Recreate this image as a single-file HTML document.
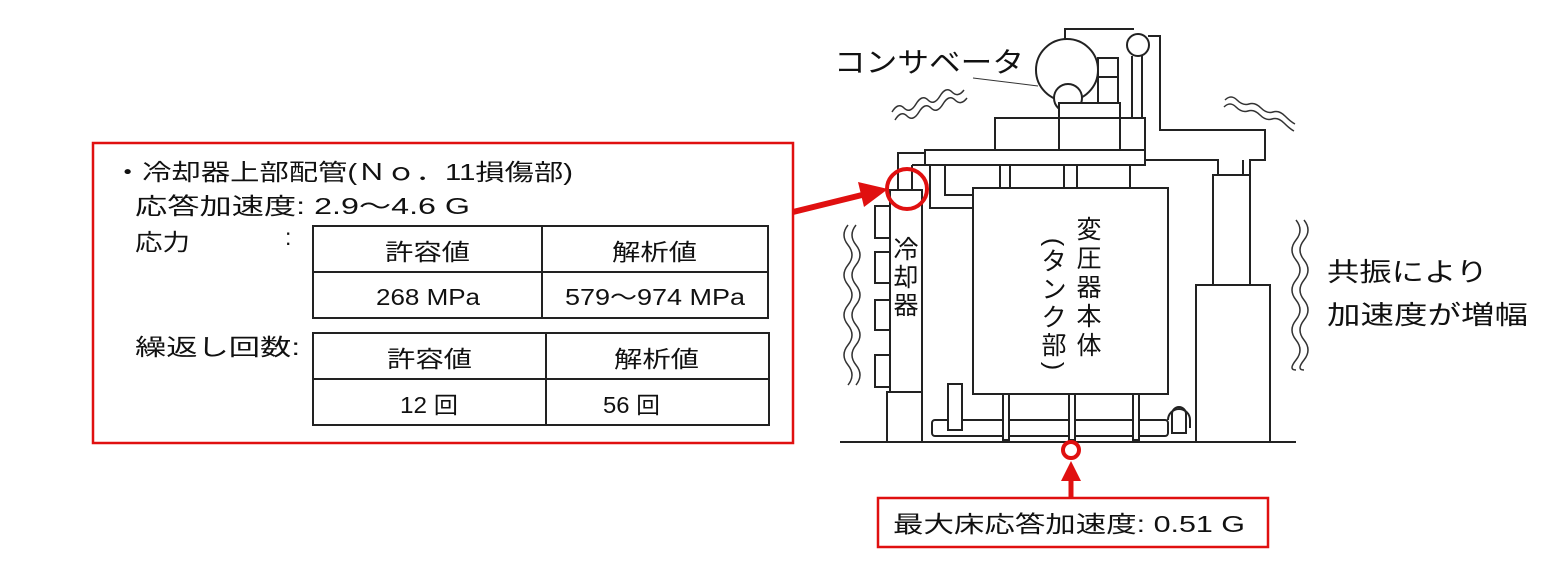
<!DOCTYPE html>
<html><head><meta charset="utf-8"><style>
html,body{margin:0;padding:0;background:#fff}
svg{display:block}
text{font-family:"Liberation Sans","Noto Sans CJK JP",sans-serif;fill:#111}
</style></head><body>
<svg width="1552" height="578" viewBox="0 0 1552 578" xmlns="http://www.w3.org/2000/svg">
<g fill="none" stroke="#222" stroke-width="2">
<line x1="840" y1="442" x2="1296" y2="442"/>
<circle cx="1067" cy="70" r="31" fill="#fff"/>
<circle cx="1068" cy="98" r="14" fill="#fff"/>
<polyline points="1065,39 1065,29 1134,29"/>
<circle cx="1138" cy="45" r="11"/>
<line x1="1132" y1="56" x2="1132" y2="118"/>
<line x1="1142" y1="56" x2="1142" y2="118"/>
<polyline points="1148,36 1160,36 1160,130 1265,130 1265,160 1250,160 1250,175"/>
<polyline points="1145,160 1218,160 1218,175"/>
<line x1="1243" y1="160" x2="1243" y2="175"/>
<rect x="1098" y="58" width="20" height="45"/>
<line x1="1098" y1="77" x2="1118" y2="77"/>
<rect x="1059" y="103" width="61" height="47" fill="#fff"/>
<rect x="995" y="118" width="150" height="47"/>
<rect x="925" y="150" width="220" height="15" fill="#fff"/>
<line x1="1059" y1="103" x2="1059" y2="150"/>
<line x1="1120" y1="103" x2="1120" y2="150"/>
<line x1="1000" y1="165" x2="1000" y2="188"/><line x1="1010" y1="165" x2="1010" y2="188"/>
<line x1="1064" y1="165" x2="1064" y2="188"/><line x1="1077" y1="165" x2="1077" y2="188"/>
<line x1="1130" y1="165" x2="1130" y2="188"/>
<polyline points="945,165 945,195 973,195"/>
<polyline points="930,165 930,208 973,208"/>
<polyline points="898,190 898,153 925,153"/>
<line x1="912" y1="165" x2="912" y2="190"/>
<line x1="912" y1="165" x2="925" y2="165"/>
<rect x="1213" y="175" width="37" height="110"/>
<rect x="1196" y="285" width="74" height="157"/>
<rect x="973" y="188" width="195" height="206" fill="#fff"/>
<rect x="890" y="190" width="32" height="202"/>
<rect x="887" y="392" width="35" height="50"/>
<rect x="875" y="206" width="15" height="32"/><rect x="875" y="252" width="15" height="31"/>
<rect x="875" y="300" width="15" height="30"/><rect x="875" y="355" width="15" height="32"/>
<rect x="932" y="420" width="236" height="16" rx="3"/>
<rect x="948" y="384" width="14" height="46" fill="#fff"/>
<rect x="1003" y="394" width="6" height="46" fill="#fff"/>
<rect x="1069" y="394" width="6" height="46" fill="#fff"/>
<rect x="1133" y="394" width="6" height="46" fill="#fff"/>
<path d="M1172,433 V414 a7,7 0 0,1 14,0 V433 Z"/>
<path d="M1168,420 a11,11 0 0,1 22,0 V428"/>
</g>
<line x1="973" y1="78" x2="1038" y2="86" stroke="#333" stroke-width="1"/>
<g fill="none" stroke="#333" stroke-width="1.5">
<path d="M892,112 q6,-10 12,-4 t12,-4 t12,-4 t12,-4 t12,-4 t12,-2"/>
<path d="M895,120 q6,-10 12,-4 t12,-4 t12,-4 t12,-4 t12,-4 t12,-2"/>
<path d="M1225,100 q6,-6 12,0 t12,4 t12,4 t12,4 t12,4 t10,8"/>
<path d="M1224,107 q6,-6 12,0 t12,4 t12,4 t12,4 t12,4 t10,8"/>
<path d="M848,225 q-8,10 0,20 t0,20 t0,20 t0,20 t0,20 t0,20 t0,20 t0,20"/>
<path d="M856,225 q-8,10 0,20 t0,20 t0,20 t0,20 t0,20 t0,20 t0,20 t0,20"/>
<path d="M1296,220 q8,10 0,20 t0,20 t0,20 t0,20 t0,20 t0,20 t0,20 t0,10"/>
<path d="M1304,220 q8,10 0,20 t0,20 t0,20 t0,20 t0,20 t0,20 t0,20 t0,10"/>
</g>
<g stroke="#e01010" fill="none">
<circle cx="907" cy="189" r="20" stroke-width="4"/>
<circle cx="1071" cy="450" r="8" stroke-width="4"/>
<rect x="93" y="143" width="700" height="300" stroke-width="2.5"/>
<rect x="878" y="498" width="390" height="49" stroke-width="2.5"/>
<line x1="793" y1="212" x2="862" y2="195" stroke-width="6"/>
<line x1="1071" y1="478" x2="1071" y2="498" stroke-width="5"/>
</g>
<polygon points="888,189 858,182 864,207" fill="#e01010"/>
<polygon points="1071,461 1061,481 1081,481" fill="#e01010"/>
<g fill="none" stroke="#222" stroke-width="2">
<rect x="313" y="226" width="455" height="92"/><line x1="313" y1="272" x2="768" y2="272"/><line x1="542" y1="226" x2="542" y2="318"/>
<rect x="313" y="333" width="456" height="92"/><line x1="313" y1="379" x2="769" y2="379"/><line x1="546" y1="333" x2="546" y2="425"/>
</g>
<g font-size="23">
<text x="113" y="180" textLength="460" lengthAdjust="spacingAndGlyphs">・冷却器上部配管(Ｎｏ．11損傷部)</text>
<text x="135" y="214" textLength="335" lengthAdjust="spacingAndGlyphs">応答加速度: 2.9～4.6 G</text>
<text x="135" y="250" textLength="55" lengthAdjust="spacingAndGlyphs">応力</text><text x="285" y="245">:</text>
<text x="135" y="355" textLength="165" lengthAdjust="spacingAndGlyphs">繰返し回数:</text>
<text x="385" y="260" textLength="85" lengthAdjust="spacingAndGlyphs">許容値</text>
<text x="612" y="260" textLength="85" lengthAdjust="spacingAndGlyphs">解析値</text>
<text x="376" y="305" textLength="104" lengthAdjust="spacingAndGlyphs">268 MPa</text>
<text x="565" y="305" textLength="180" lengthAdjust="spacingAndGlyphs">579～974 MPa</text>
<text x="387" y="367" textLength="85" lengthAdjust="spacingAndGlyphs">許容値</text>
<text x="614" y="367" textLength="85" lengthAdjust="spacingAndGlyphs">解析値</text>
<text x="400" y="413" textLength="58" lengthAdjust="spacingAndGlyphs">12 回</text>
<text x="603" y="413" textLength="57" lengthAdjust="spacingAndGlyphs">56 回</text>
<text x="893" y="532" textLength="352" lengthAdjust="spacingAndGlyphs">最大床応答加速度: 0.51 G</text>
</g>
<text x="834" y="72" font-size="28" textLength="190" lengthAdjust="spacingAndGlyphs">コンサベータ</text>
<g font-size="26">
<text x="1327" y="281" textLength="161" lengthAdjust="spacingAndGlyphs">共振により</text>
<text x="1327" y="324" textLength="201" lengthAdjust="spacingAndGlyphs">加速度が増幅</text>
</g>
<g font-size="25" text-anchor="middle">
<text x="906" y="258">冷</text><text x="906" y="286">却</text><text x="906" y="314">器</text>
<text x="1089" y="238">変</text><text x="1089" y="267">圧</text><text x="1089" y="296">器</text><text x="1089" y="325">本</text><text x="1089" y="354">体</text>
</g>
<g font-size="25" text-anchor="middle">
<text x="1054" y="250" transform="rotate(90 1054 242)">(</text>
<text x="1054" y="270">タ</text><text x="1054" y="298">ン</text><text x="1054" y="326">ク</text><text x="1054" y="354">部</text>
<text x="1054" y="374" transform="rotate(90 1054 366)">)</text>
</g>
</svg>
</body></html>
